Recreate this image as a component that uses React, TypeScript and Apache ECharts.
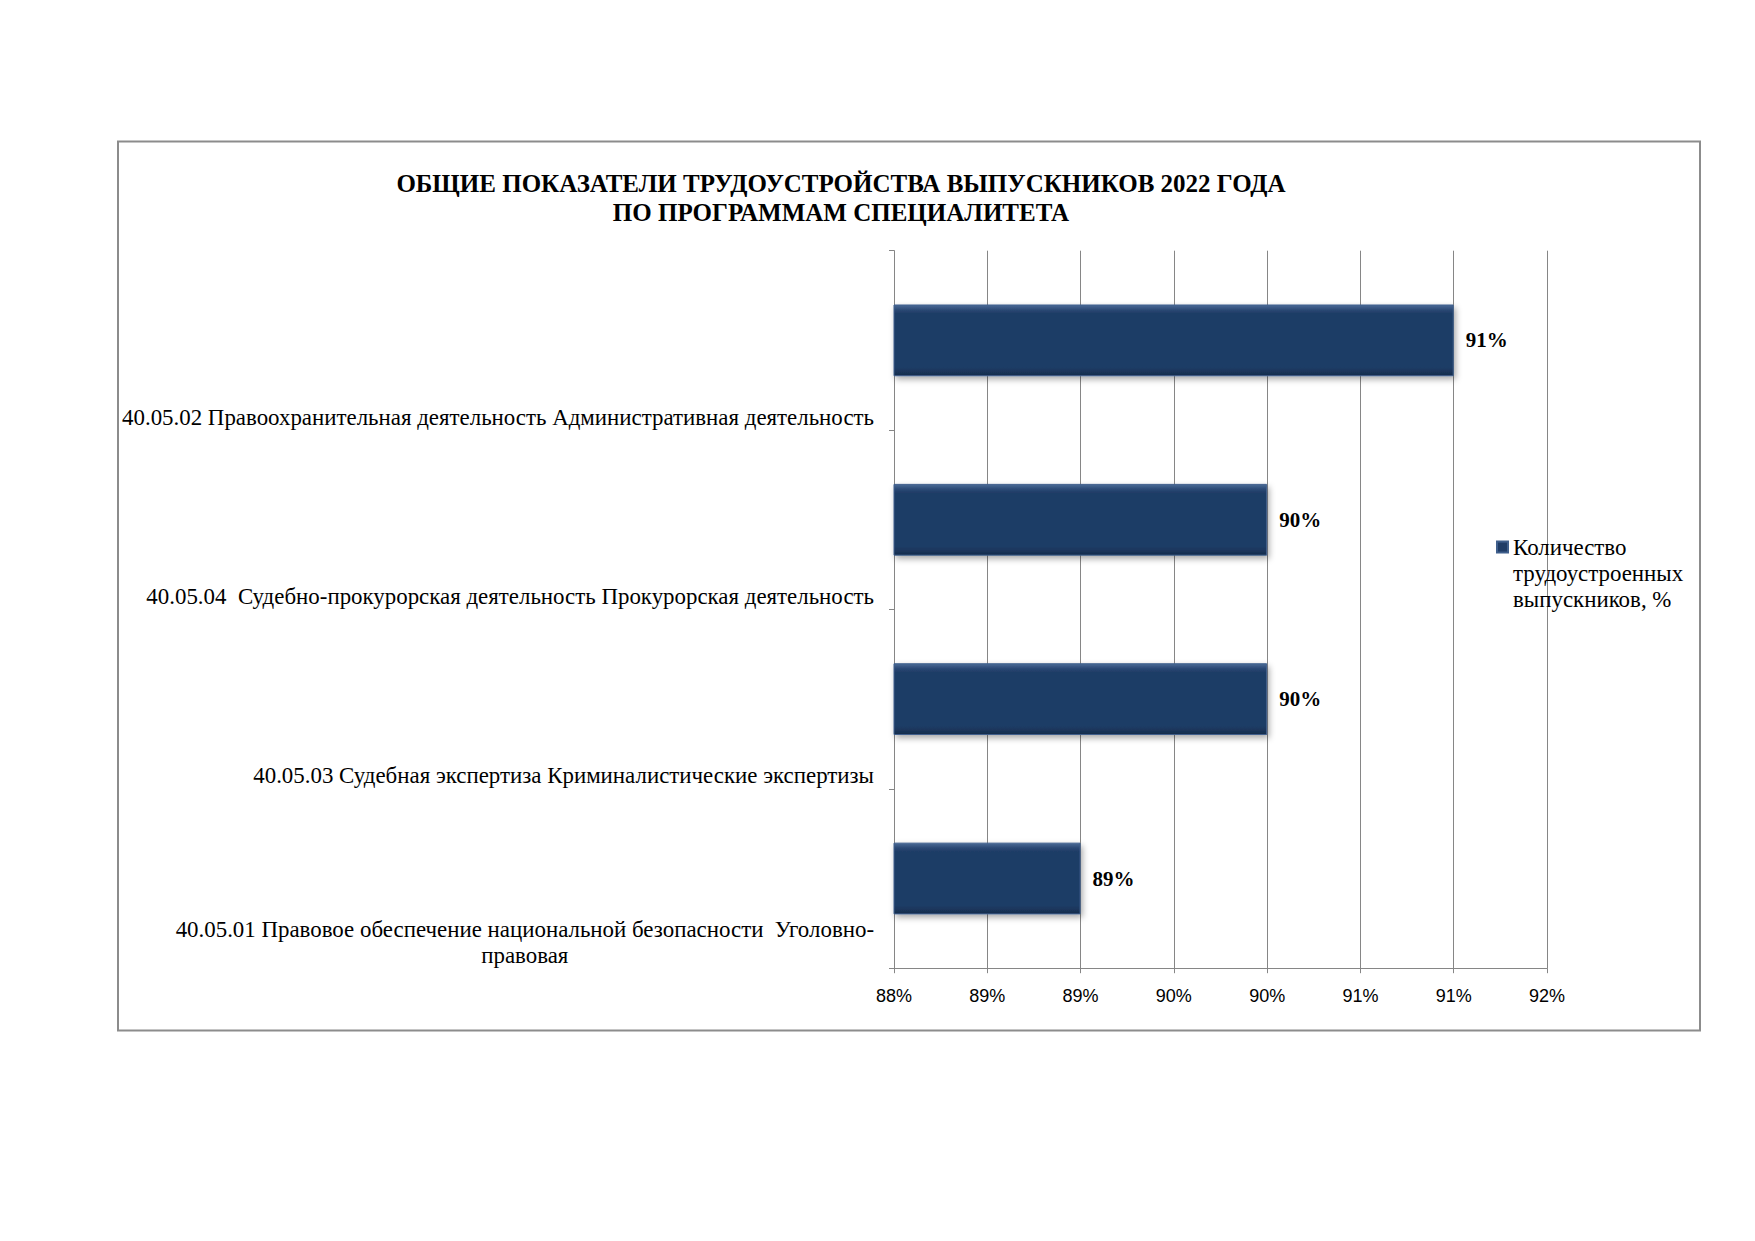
import React, { useEffect, useRef } from "react";
import * as echarts from "echarts";

// ---------- data ----------
const TITLE_LINES = [
  "ОБЩИЕ ПОКАЗАТЕЛИ ТРУДОУСТРОЙСТВА ВЫПУСКНИКОВ 2022 ГОДА",
  "ПО ПРОГРАММАМ СПЕЦИАЛИТЕТА",
];
const categories = [
  "40.05.02 Правоохранительная деятельность Административная деятельность",
  "40.05.04  Судебно-прокурорская деятельность Прокурорская деятельность",
  "40.05.03 Судебная экспертиза Криминалистические экспертизы",
  "40.05.01 Правовое обеспечение национальной безопасности  Уголовно-правовая",
];
const SERIES_NAME = "Количество трудоустроенных выпускников, %";
const values = [0.91, 0.9, 0.9, 0.89];
const X_MIN = 0.88;
const X_MAX = 0.915;
const X_STEP = 0.005;

// ---------- helpers ----------
const SERIF = '"Liberation Serif", "Times New Roman", serif';
const SANS = '"Liberation Sans", Arial, sans-serif';
const LABEL_SIZE = 22.9;
const LABEL_LH = 26;

let measureCtx: CanvasRenderingContext2D | null = null;
function measure(text: string, size: number, family = SERIF, weight = "normal") {
  if (!measureCtx) measureCtx = document.createElement("canvas").getContext("2d");
  if (!measureCtx) return text.length * size * 0.5;
  measureCtx.font = `${weight} ${size}px ${family}`;
  return measureCtx.measureText(text).width;
}
function wrap(text: string, maxW: number, size: number) {
  const tokens = text.split(/(?<=[ \-])/);
  const lines: string[] = [];
  let cur = "";
  for (const t of tokens) {
    if (cur && measure((cur + t).trimEnd(), size) > maxW) {
      lines.push(cur.trimEnd());
      cur = t.trimStart();
    } else cur += t;
  }
  if (cur) lines.push(cur.trimEnd());
  return lines;
}
function pct(v: number) {
  const p = Math.round(v * 1000) / 10;
  return Math.round(p + 1e-6) + "%";
}

export default function App() {
  const ref = useRef<HTMLDivElement>(null);
  useEffect(() => {
    document.body.style.margin = "0";
    if (!ref.current) return;
    const chart = echarts.init(ref.current, null, { renderer: "svg" });

    const MAX_LABEL_W = 770;
    const wrapped = categories.map((c) => wrap(c, MAX_LABEL_W, LABEL_SIZE));
    let blockW = 0;
    wrapped.forEach((ls) => {
      if (ls.length > 1) ls.forEach((l) => (blockW = Math.max(blockW, measure(l, LABEL_SIZE))));
    });
    const labelMap: Record<string, string> = {};
    categories.forEach((c, i) => {
      const ls = wrapped[i];
      labelMap[c] = ls.length > 1 ? ls.map((l) => `{c|${l}}`).join("\n") : c;
    });

    const barFill = new echarts.graphic.LinearGradient(0, 0, 0, 1, [
      { offset: 0, color: "#4A6A96" },
      { offset: 0.07, color: "#2A4874" },
      { offset: 0.12, color: "#1F3C66" },
      { offset: 0.88, color: "#1F3C66" },
      { offset: 0.95, color: "#1A3458" },
      { offset: 1, color: "#142B4A" },
    ]);

    const option: any = {
      animation: false,
      backgroundColor: "#ffffff",
      grid: { left: 894, right: 208, top: 250.7, bottom: 272.8, containLabel: false },
      graphic: [
        {
          type: "rect",
          shape: { x: 118, y: 141.5, width: 1582, height: 889 },
          style: { fill: "none", stroke: "#8c8c8c", lineWidth: 2 },
          silent: true,
        },
        {
          type: "text",
          x: 841,
          y: 169,
          style: {
            text: TITLE_LINES.join("\n"),
            fontFamily: SERIF,
            fontSize: 25,
            fontWeight: "bold",
            lineHeight: 29,
            align: "center",
            verticalAlign: "top",
            fill: "#000",
          },
        },
      ],
      legend: {
        show: true,
        left: 1496,
        top: 482,
        padding: 0,
        itemWidth: 11,
        itemHeight: 11,
        icon: "rect",
        data: [SERIES_NAME],
        // two leading empty lines keep the first text line level with the marker
        formatter: (name: string) => "\n\n" + wrap(name, 180, LABEL_SIZE).join("\n"),
        textStyle: {
          fontFamily: SERIF,
          fontSize: LABEL_SIZE,
          lineHeight: LABEL_LH,
          color: "#000",
        },
      },
      xAxis: {
        type: "value",
        min: X_MIN,
        max: X_MAX,
        interval: X_STEP,
        axisLine: { show: true, lineStyle: { color: "#868686", width: 1 } },
        axisTick: { show: true, length: 5, lineStyle: { color: "#868686" } },
        splitLine: { show: true, lineStyle: { color: "#868686", width: 1 } },
        axisLabel: {
          formatter: (v: number) => pct(v),
          fontFamily: SANS,
          fontSize: 18,
          color: "#000",
          margin: 19,
        },
      },
      yAxis: [
        {
          type: "category",
          data: categories,
          inverse: true,
          position: "left",
          axisLine: { show: true, lineStyle: { color: "#868686", width: 1 } },
          axisTick: { show: false },
          axisLabel: { show: false },
          splitLine: { show: false },
        },
        {
          type: "category",
          data: ["", ...categories],
          inverse: true,
          boundaryGap: false,
          position: "left",
          offset: 0,
          axisLine: { show: false },
          axisTick: { show: true, length: 5, lineStyle: { color: "#868686" } },
          splitLine: { show: false },
          axisLabel: {
            interval: 0,
            margin: 20,
            fontFamily: SERIF,
            fontSize: LABEL_SIZE,
            lineHeight: LABEL_LH,
            color: "#000",
            align: "right",
            verticalAlign: "bottom",
            formatter: (v: string) => (v ? labelMap[v] ?? v : ""),
            rich: {
              c: {
                width: blockW,
                align: "center",
                fontFamily: SERIF,
                fontSize: LABEL_SIZE,
                lineHeight: LABEL_LH,
                color: "#000",
              },
            },
          },
        },
      ],
      series: [
        {
          name: SERIES_NAME,
          type: "bar",
          xAxisIndex: 0,
          yAxisIndex: 0,
          data: values,
          barWidth: "40%",
          itemStyle: {
            color: barFill,
            borderColor: "#3F5F8C",
            borderWidth: 1,
            shadowColor: "rgba(0,0,0,0.35)",
            shadowBlur: 6,
            shadowOffsetX: 2,
            shadowOffsetY: 3,
          },
          label: {
            show: true,
            position: "right",
            distance: 12,
            formatter: (p: any) => pct(p.value),
            fontFamily: SERIF,
            fontSize: 21,
            fontWeight: "bold",
            color: "#000",
          },
        },
      ],
    };
    chart.setOption(option);
    return () => chart.dispose();
  }, []);
  return <div ref={ref} style={{ width: 1755, height: 1241 }} />;
}
